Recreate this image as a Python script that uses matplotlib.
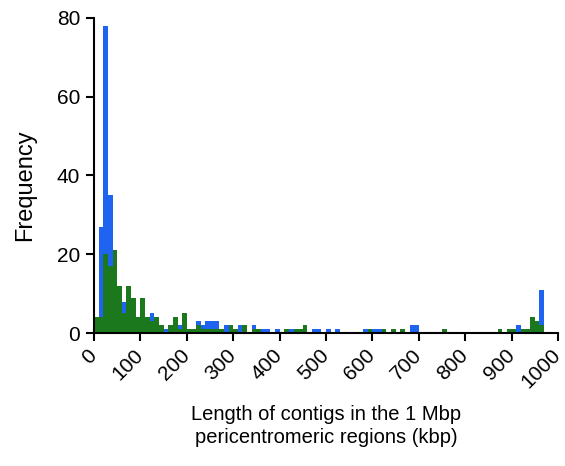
import matplotlib
matplotlib.use('Agg')
import matplotlib.pyplot as plt

plt.rcParams['font.family'] = ['Liberation Sans', 'DejaVu Sans']

# histogram bins are 10 kbp wide; value = left edge of the bin (kbp)
bin_width = 10

blue_bins = [10, 20, 30, 60, 120, 150, 180, 220, 230, 240, 250, 260, 280, 310,
             340, 360, 370, 390, 420, 470, 480, 500, 520, 580, 600, 610, 680,
             690, 910, 960]
blue_counts = [27, 78, 35, 8, 5, 1, 2, 3, 2, 3, 3, 3, 2, 2,
               2, 1, 1, 1, 1, 1, 1, 1, 1, 1, 1, 1, 2,
               2, 2, 11]

green_bins = [0, 10, 20, 30, 40, 50, 60, 70, 80, 90, 100, 110, 120, 130, 140,
              160, 170, 180, 190, 200, 210, 220, 230, 240, 250, 260, 270, 290,
              300, 320, 340, 350, 410, 430, 440, 450, 590, 620, 640, 660, 750,
              870, 890, 900, 920, 930, 940, 950, 960]
green_counts = [4, 4, 20, 17, 21, 12, 5, 12, 9, 4, 9, 4, 3, 4, 2,
                2, 4, 1, 5, 1, 1, 2, 1, 1, 1, 1, 1, 2,
                1, 2, 1, 1, 1, 1, 1, 2, 1, 1, 1, 1, 1,
                1, 1, 1, 1, 1, 4, 3, 2]

x_ticks = list(range(0, 1001, 100))
y_ticks = [0, 20, 40, 60, 80]

fig = plt.figure(figsize=(5.65, 4.66), dpi=100)
ax = fig.add_axes([0.1664, 0.2854, 0.8212, 0.676])

ax.bar(blue_bins, blue_counts, width=bin_width, align='edge', color='#1f64f0', linewidth=0)
ax.bar(green_bins, green_counts, width=bin_width, align='edge', color='#1c781c', linewidth=0)

ax.set_xlim(0, 1000)
ax.set_ylim(0, 80)
ax.set_xticks(x_ticks)
ax.set_yticks(y_ticks)

for side in ['top', 'right']:
    ax.spines[side].set_visible(False)
for side in ['left', 'bottom']:
    ax.spines[side].set_linewidth(1.5)

ax.tick_params(axis='both', width=1.5, length=6, labelsize=15, color='black')
ax.tick_params(axis='y', pad=4)
ax.tick_params(axis='x', pad=8)
plt.setp(ax.get_xticklabels(), rotation=45, ha='right', va='center', rotation_mode='anchor')

ax.set_ylabel('Frequency', fontsize=17)
ax.yaxis.set_label_coords(-0.125, 0.47)
ax.set_xlabel('Length of contigs in the 1 Mbp\npericentromeric regions (kbp)',
              fontsize=14.5, linespacing=1.25)
ax.xaxis.set_label_coords(0.5, -0.23)

fig.savefig('out.png', dpi=100)
